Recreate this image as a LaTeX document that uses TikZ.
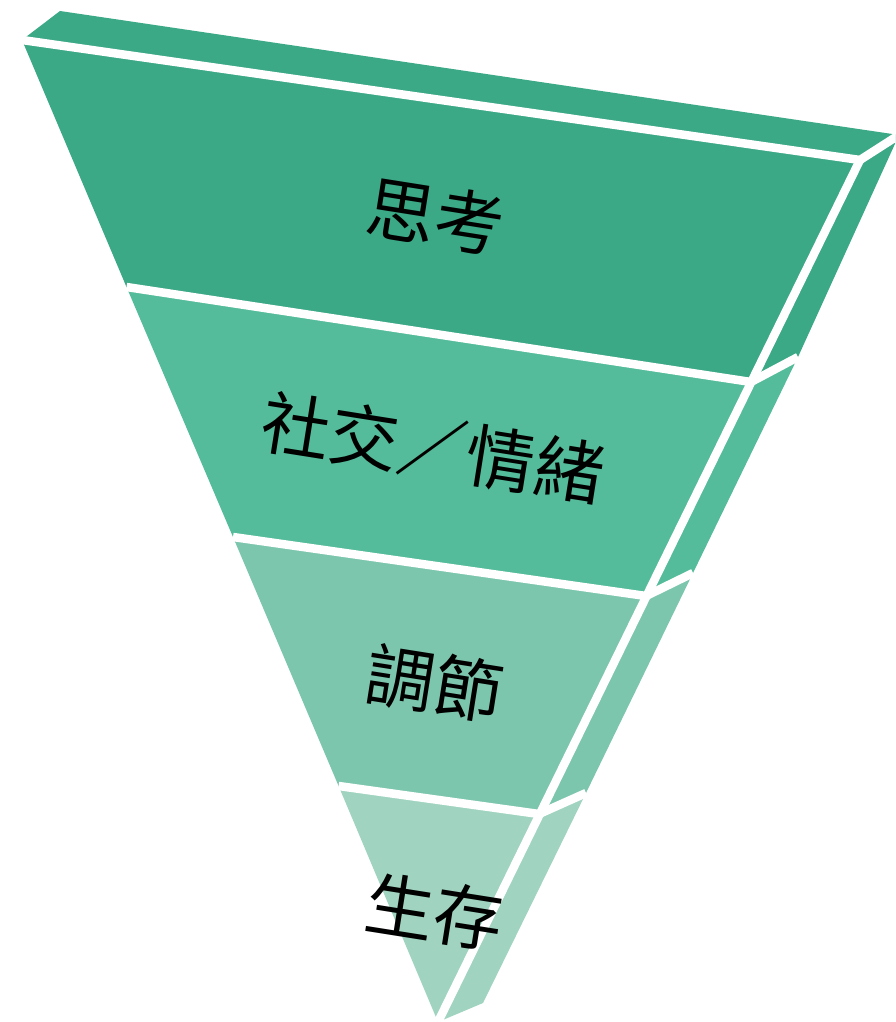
\documentclass[tikz,border=0pt]{standalone}
\usepackage{fontspec}
\newfontfamily\cjk{Noto Sans CJK TC}
\definecolor{cA}{RGB}{59,168,134}
\definecolor{cB}{RGB}{84,188,154}
\definecolor{cC}{RGB}{125,198,174}
\definecolor{cD}{RGB}{160,212,192}
\tikzset{
  sep/.style={draw=white,line width=8.5pt,line join=miter},
  lbl/.style={font=\cjk\fontsize{69}{69}\selectfont,text=black,rotate=-9,inner sep=0pt}
}
\begin{document}
\begin{tikzpicture}[x=1pt,y=-1pt]
\useasboundingbox (0,0) rectangle (895,1022);
\begin{scope}
\clip (0,0) rectangle (895,1022);
\coordinate (FTL) at (22,40);
\coordinate (FTR) at (860,160);
\coordinate (BTL) at (60,11);
\coordinate (BTR) at (899,135);
\coordinate (L1) at (126.5,287);
\coordinate (R1) at (751,382);
\coordinate (B1) at (798,357);
\coordinate (L2) at (233,537);
\coordinate (R2) at (646,596);
\coordinate (B2) at (693,573);
\coordinate (L3) at (338.6,786);
\coordinate (R3) at (539,814);
\coordinate (B3) at (586,793);
\coordinate (AP) at (438,1022);
\coordinate (BA) at (483,1003);
% top face
\fill[cA] (FTL) -- (BTL) -- (BTR) -- (FTR) -- cycle;
% layer 1
\fill[cA] (FTL) -- (FTR) -- (R1) -- (L1) -- cycle;
\fill[cA] (FTR) -- (BTR) -- (B1) -- (R1) -- cycle;
% layer 2
\fill[cB] (L1) -- (R1) -- (R2) -- (L2) -- cycle;
\fill[cB] (R1) -- (B1) -- (B2) -- (R2) -- cycle;
% layer 3
\fill[cC] (L2) -- (R2) -- (R3) -- (L3) -- cycle;
\fill[cC] (R2) -- (B2) -- (B3) -- (R3) -- cycle;
% layer 4
\fill[cD] (L3) -- (R3) -- (AP) -- cycle;
\fill[cD] (R3) -- (B3) -- (BA) -- (AP) -- cycle;
% white separators
\draw[sep] (FTL) -- (FTR) -- (BTR);
\draw[sep] (FTR) -- (AP);
\draw[sep] (L1) -- (R1) -- (B1);
\draw[sep] (L2) -- (R2) -- (B2);
\draw[sep] (L3) -- (R3) -- (B3);
\end{scope}
% labels
\node[lbl] (t1) at (436,216) {思考};
\node[lbl] (t2) at (433,448) {社交／情緒};
\node[lbl] (t3) at (435,683) {調節};
\node[lbl] (t4) at (435,912) {生存};
\end{tikzpicture}
\end{document}
